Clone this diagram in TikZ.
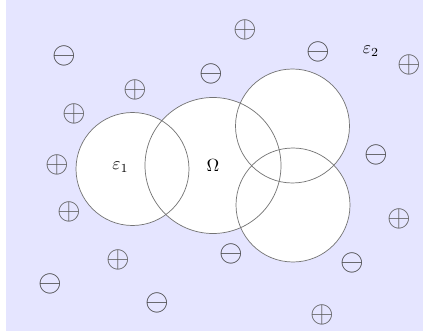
\documentclass[tikz,border=0pt]{standalone}
\usepackage{amsmath,amssymb}
\usepackage{tikz}

\begin{document}
\begin{tikzpicture}[
    fondo/.style={fill=blue!10},
    bola/.style={draw=black!55, thin},
    mas/.style={text=black!65, inner sep=0pt, font=\LARGE},
    menos/.style={text=black!75, inner sep=0pt, font=\LARGE},
    etiqueta/.style={font=\normalsize, inner sep=1pt}
]
\useasboundingbox (0,0) rectangle (8.46,6.64);
\fill[fondo] (0.12,0.02) rectangle (8.46,6.64);
% ---------- atomos ----------
\fill[white] (2.65,3.26) circle (1.13);
\fill[white] (4.26,3.33) circle (1.36);
\fill[white] (5.85,4.12) circle (1.14);
\fill[white] (5.86,2.54) circle (1.14);
\draw[bola] (2.65,3.26) circle (1.13);
\draw[bola] (4.26,3.33) circle (1.36);
\draw[bola] (5.85,4.12) circle (1.14);
\draw[bola] (5.86,2.54) circle (1.14);
\node[etiqueta] (eps1)  at (2.41,3.30) {$\varepsilon_1$};
\node[etiqueta] (omega) at (4.26,3.34) {$\Omega$};
\node[etiqueta] (eps2)  at (7.42,5.61) {$\varepsilon_2$};
% ---------- cargas ----------
\node[menos] (n1) at (1.29,5.53) {$\ominus$};
\node[mas]   (p1) at (4.91,6.04) {$\oplus$};
\node[menos] (n2) at (6.37,5.61) {$\ominus$};
\node[mas]   (p2) at (8.19,5.34) {$\oplus$};
\node[menos] (n3) at (4.23,5.16) {$\ominus$};
\node[mas]   (p3) at (2.70,4.84) {$\oplus$};
\node[mas]   (p4) at (1.49,4.36) {$\oplus$};
\node[menos] (n4) at (7.53,3.55) {$\ominus$};
\node[mas]   (p5) at (1.15,3.34) {$\oplus$};
\node[mas]   (p6) at (1.39,2.41) {$\oplus$};
\node[mas]   (p7) at (7.98,2.26) {$\oplus$};
\node[menos] (n5) at (4.63,1.57) {$\ominus$};
\node[menos] (n6) at (7.04,1.39) {$\ominus$};
\node[mas]   (p8) at (2.37,1.45) {$\oplus$};
\node[menos] (n7) at (1.00,0.97) {$\ominus$};
\node[menos] (n8) at (3.15,0.59) {$\ominus$};
\node[mas]   (p9) at (6.44,0.35) {$\oplus$};
\end{tikzpicture}
\end{document}
